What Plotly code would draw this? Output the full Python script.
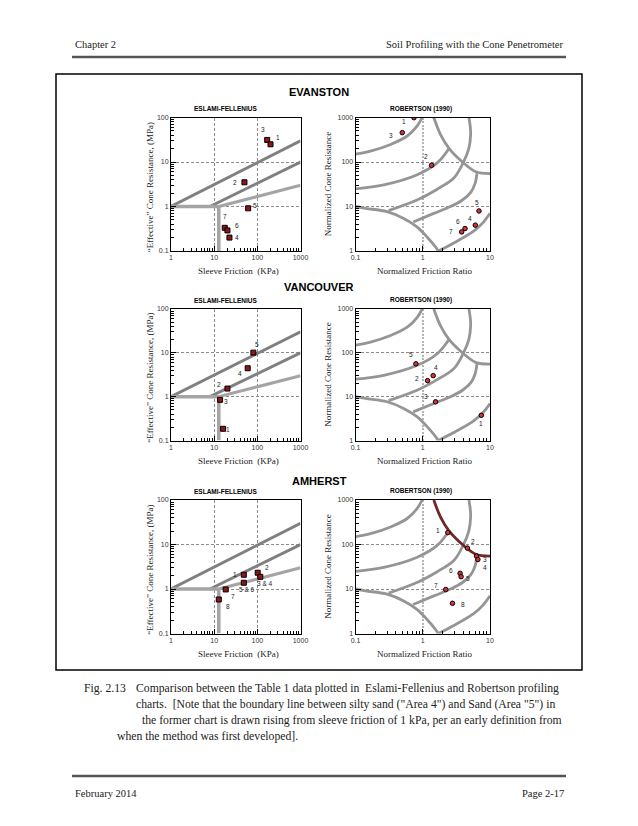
import math
import plotly.graph_objects as go

W, H = 638, 826
PAGE_OFF = 8  # the page body margin shifts the figure by this many pixels
SERIF = "Liberation Serif"
SANS = "Liberation Sans"

# ---------------- chart data ----------------
# Eslami-Fellenius zone boundaries: sleeve friction (KPa) vs effective cone resistance (MPa)
ef_line1_fs = [1, 1000]
ef_line1_q = [1, 30]
ef_line2_fs = [8, 1000]
ef_line2_q = [1, 10]
ef_line3_fs = [12.8, 1000]
ef_line3_q = [1, 3]
ef_horiz_fs = [1, 12.8]
ef_horiz_q = [1, 1]
ef_vert_fs = [12.8, 12.8]
ef_vert_q = [1, 0.1]

# Robertson (1990) zone boundaries: normalized friction ratio vs normalized cone resistance
rob_a_fr = [0.1, 0.167, 0.332, 0.587, 0.828, 0.98]
rob_a_qt = [150, 175, 248, 384, 647, 1000]
rob_b_fr = [0.1, 0.264, 0.828, 1.64, 2.5]
rob_b_qt = [25, 30.7, 51.9, 95.5, 210]
rob_c_fr = [0.31, 0.82, 1.64, 2.9, 4.0, 4.86, 5.15, 5.1, 4.86]
rob_c_qt = [8.1, 14, 24.5, 43.6, 97, 206, 412, 600, 1000]
rob_d_fr = [0.72, 1.46, 2.59, 3.9, 5.2, 6.0, 6.4]
rob_d_qt = [4.5, 7.0, 9.95, 14, 21, 33, 56]
rob_e_fr = [0.1, 0.141, 0.294, 0.52, 0.82, 1.16, 1.55, 1.7]
rob_e_qt = [10, 9.1, 7.65, 5.4, 3.5, 2.07, 1.23, 1.0]
rob_f_fr = [1.7, 2.85, 5.65, 7.94, 10]
rob_f_qt = [1.0, 1.5, 2.75, 4.4, 7.0]
rob_g_fr = [1.46, 1.84, 2.44, 4.09, 6.12, 10]
rob_g_qt = [1000, 412, 206, 94, 60.6, 55]

# Evanston
ev_ef_labels = ["3", "1", "2", "5", "7", "6", "4"]
ev_ef_fs = [169, 202, 50.3, 61.2, 17.6, 20.3, 22.6]
ev_ef_q = [31.3, 25, 3.5, 0.91, 0.332, 0.29, 0.2]
ev_rob_labels = ["1", "3", "2", "5", "4", "6", "7"]
ev_rob_fr = [0.74, 0.496, 1.354, 6.86, 6.05, 4.25, 3.79]
ev_rob_qt = [990, 457, 84.5, 7.93, 3.81, 3.2, 2.69]

# Vancouver
va_ef_labels = ["5", "4", "2", "3", "1"]
va_ef_fs = [80.9, 59.8, 20.3, 13.7, 16.1]
va_ef_q = [10.1, 4.45, 1.53, 0.845, 0.185]
va_rob_labels = ["5", "4", "2", "3", "1"]
va_rob_fr = [0.791, 1.43, 1.18, 1.55, 7.43]
va_rob_qt = [56.1, 30.2, 23.2, 7.62, 3.76]

# Amherst
am_ef_labels = ["1", "2", "3 & 4", "5 & 6", "7", "8"]
am_ef_fs = [48.6, 102, 117, 48.6, 18.5, 12.8]
am_ef_q = [2.09, 2.32, 1.88, 1.38, 0.977, 0.581]
am_rob_labels = ["1", "2", "3", "4", "6", "5", "7", "8"]
am_rob_fr = [2.36, 4.61, 6.3, 6.6, 3.59, 3.72, 2.2, 2.77]
am_rob_qt = [185, 83, 55, 46, 22.5, 18.9, 9.76, 4.78]

# label offsets (pixels, dx right / dy up) -- layout only
ev_ef_off = [(-4, 10), (7, 7), (-9, 0), (7, 3), (0, 11), (10, 5), (8, 0)]
ev_rob_off = [(-10, -4), (-11, -3), (-6, 9), (-2, 8), (-5, 7), (-7, 7), (-11, 0)]
va_ef_off = [(4, 8), (-8, -5), (-8, 4), (6, -2), (5, -1)]
va_rob_off = [(-5, 9), (3, 8), (-11, 2), (-10, 5), (0, -8)]
am_ef_off = [(-9, 0), (9, 5), (5, -7), (3, -7), (7, -7), (9, -7)]
am_rob_off = [(-10, 2), (6, 7), (8, -3), (7, -8), (-9, 3), (7, -2), (-10, 4), (10, -1)]

# ---------------- layout geometry ----------------
def px(x):
    return (x - PAGE_OFF) / W

def py(y):
    return 1 - (y - PAGE_OFF) / H

EF_X = (171, 300.5)
ROB_X = (355.5, 490)
ROWS = [(117.5, 251), (309, 440.5), (500, 633.5)]
SITE_TITLES = [("EVANSTON", 92), ("VANCOUVER", 287), ("AMHERST", 481)]

fig = go.Figure()
annotations = []
shapes = []

def minor_vals(e0, e1):
    return [k * 10 ** e for e in range(e0, e1) for k in range(2, 10)]

def axis(domain, rng, tickvals, ticktext, minors, grid_dash, grid_color, grid_width):
    return dict(
        type="log", domain=domain, range=rng, automargin=False,
        tickmode="array", tickvals=tickvals, ticktext=ticktext,
        ticks="inside", ticklen=5, tickwidth=0.8, tickcolor="black",
        tickfont=dict(family=SANS, size=7, color="#333"),
        showline=True, linecolor="black", linewidth=1, mirror=True,
        showgrid=True, gridcolor=grid_color, gridwidth=grid_width, griddash=grid_dash,
        zeroline=False,
        minor=dict(tickvals=minors, ticks="inside", ticklen=3, tickwidth=0.8,
                   tickcolor="black", showgrid=False),
        fixedrange=True,
    )

def note(x, y, text, size, family=SERIF, xanchor="center", angle=0, color="#222", bold=False):
    annotations.append(dict(x=px(x), y=py(y), xref="paper", yref="paper",
                            text=f"<b>{text}</b>" if bold else text,
                            xanchor=xanchor, yanchor="middle", textangle=angle, showarrow=False,
                            font=dict(family=family, size=size, color=color)))

def line_trace(xs, ys, xa, ya, color, width, shape="linear"):
    fig.add_trace(go.Scatter(x=xs, y=ys, mode="lines", xaxis=xa, yaxis=ya,
                             line=dict(color=color, width=width, shape=shape, smoothing=1.0),
                             hoverinfo="skip", showlegend=False))

def points(xs, ys, labels, offs, xa, ya, symbol, size, fill):
    fig.add_trace(go.Scatter(x=xs, y=ys, mode="markers", xaxis=xa, yaxis=ya,
                             marker=dict(symbol=symbol, size=size, color=fill,
                                         line=dict(color="black", width=1)),
                             showlegend=False))
    for xv, yv, lab, (dx, dy) in zip(xs, ys, labels, offs):
        annotations.append(dict(x=math.log10(xv), y=math.log10(yv), xref=xa, yref=ya,
                                text=lab, showarrow=False, xshift=dx, yshift=dy,
                                xanchor="center", yanchor="middle",
                                font=dict(family=SANS, size=6.5, color="#222")))

sites = [
    (ev_ef_fs, ev_ef_q, ev_ef_labels, ev_ef_off, ev_rob_fr, ev_rob_qt, ev_rob_labels, ev_rob_off),
    (va_ef_fs, va_ef_q, va_ef_labels, va_ef_off, va_rob_fr, va_rob_qt, va_rob_labels, va_rob_off),
    (am_ef_fs, am_ef_q, am_ef_labels, am_ef_off, am_rob_fr, am_rob_qt, am_rob_labels, am_rob_off),
]

layout_axes = {}
for i, (site, (top, bot), (stitle, sty)) in enumerate(zip(sites, ROWS, SITE_TITLES)):
    n_ef = 2 * i + 1
    n_rb = 2 * i + 2
    xa_ef = "x" if n_ef == 1 else f"x{n_ef}"
    ya_ef = "y" if n_ef == 1 else f"y{n_ef}"
    xa_rb = f"x{n_rb}"
    ya_rb = f"y{n_rb}"
    ydom = [py(bot), py(top)]

    def key(prefix, n):
        return prefix if n == 1 else f"{prefix}{n}"

    layout_axes[key("xaxis", n_ef)] = dict(
        axis([px(EF_X[0]), px(EF_X[1])], [0, 3], [1, 10, 100, 1000], ["1", "10", "100", "1000"],
             minor_vals(0, 3), "3px,2px", "#8c8c8c", 0.8), anchor=ya_ef)
    layout_axes[key("yaxis", n_ef)] = dict(
        axis(ydom, [-1, 2], [0.1, 1, 10, 100], ["0.1", "1", "10", "100"],
             minor_vals(-1, 2), "3px,2px", "#8c8c8c", 0.8), anchor=xa_ef)
    layout_axes[key("xaxis", n_rb)] = dict(
        axis([px(ROB_X[0]), px(ROB_X[1])], [-1, 1], [0.1, 1, 10], ["0.1", "1", "10"],
             minor_vals(-1, 1), "2px,1.5px", "#b4b4b4", 1.6), anchor=ya_rb)
    layout_axes[key("yaxis", n_rb)] = dict(
        axis(ydom, [0, 3], [1, 10, 100, 1000], ["1", "10", "100", "1000"],
             minor_vals(0, 3), "3px,2px", "#8c8c8c", 0.8), anchor=xa_rb)

    # Eslami-Fellenius boundaries
    line_trace(ef_line1_fs, ef_line1_q, xa_ef, ya_ef, "#808080", 3)
    line_trace(ef_line2_fs, ef_line2_q, xa_ef, ya_ef, "#808080", 3)
    line_trace(ef_line3_fs, ef_line3_q, xa_ef, ya_ef, "#a4a4a4", 3)
    line_trace(ef_horiz_fs, ef_horiz_q, xa_ef, ya_ef, "#a4a4a4", 3.5)
    line_trace(ef_vert_fs, ef_vert_q, xa_ef, ya_ef, "#a4a4a4", 3.5)

    # Robertson boundaries
    for fx, fy in [(rob_a_fr, rob_a_qt), (rob_b_fr, rob_b_qt), (rob_c_fr, rob_c_qt),
                   (rob_d_fr, rob_d_qt), (rob_e_fr, rob_e_qt), (rob_f_fr, rob_f_qt)]:
        line_trace(fx, fy, xa_rb, ya_rb, "#959595", 2.8, "spline")
    g_color = "#6e2828" if i == 2 else "#959595"
    line_trace(rob_g_fr, rob_g_qt, xa_rb, ya_rb, g_color, 2.8, "spline")

    ef_fs, ef_q, ef_lab, ef_off, rb_fr, rb_qt, rb_lab, rb_off = site
    points(ef_fs, ef_q, ef_lab, ef_off, xa_ef, ya_ef, "square", 5, "#8e1616")
    points(rb_fr, rb_qt, rb_lab, rb_off, xa_rb, ya_rb, "circle", 4.5, "#d83232")

    # titles
    note(319, sty, stitle, 11, SANS, color="black", bold=True)
    note(225, top - 9, "ESLAMI-FELLENIUS", 6.5, SANS, color="black", bold=True)
    note(421, top - 9, "ROBERTSON (1990)", 6.5, SANS, color="black", bold=True)
    # axis titles
    note(238, bot + 20.5, "Sleeve Friction  (KPa)", 9)
    note(424, bot + 20.5, "Normalized Friction Ratio", 9)
    note(150, (top + bot) / 2 + 3, "\u201cEffective\u201d Cone Resistance, (MPa)", 9, angle=-90)
    note(328, (top + bot) / 2, "Normalized Cone Resistance", 9, angle=-90)

# page header / footer / caption
note(73, 44, "Chapter 2", 10.5, xanchor="left")
note(566, 44, "Soil Profiling with the Cone Penetrometer", 10.5, xanchor="right")
note(73, 793, "February 2014", 10.5, xanchor="left")
note(566, 793, "Page 2-17", 10.5, xanchor="right")

caption_lines = [
    (82, "Fig. 2.13"),
    (134, "Comparison between the Table 1 data plotted in  Eslami-Fellenius and Robertson profiling"),
    (134, "charts.  [Note that the boundary line between silty sand (\"Area 4\") and Sand (Area \"5\") in"),
    (140, "the former chart is drawn rising from sleeve friction of 1 kPa, per an early definition from"),
    (115, "when the method was first developed]."),
]
cap_y = [688, 688, 704, 720, 736]
for (cx, ct), cy in zip(caption_lines, cap_y):
    note(cx, cy, ct, 11.7, xanchor="left")

shapes.append(dict(type="line", xref="paper", yref="paper", x0=px(72), x1=px(566), y0=py(57), y1=py(57),
                   line=dict(color="#555", width=2.5)))
shapes.append(dict(type="line", xref="paper", yref="paper", x0=px(72), x1=px(566), y0=py(776), y1=py(776),
                   line=dict(color="#555", width=2.5)))
shapes.append(dict(type="rect", xref="paper", yref="paper", x0=px(56), x1=px(582), y0=py(670), y1=py(74),
                   line=dict(color="black", width=1.5)))

fig.update_layout(
    width=W, height=H, margin=dict(l=0, r=0, t=0, b=0, autoexpand=False),
    paper_bgcolor="white", plot_bgcolor="white",
    showlegend=False, annotations=annotations, shapes=shapes,
    **layout_axes,
)

fig.write_html("out.html")
